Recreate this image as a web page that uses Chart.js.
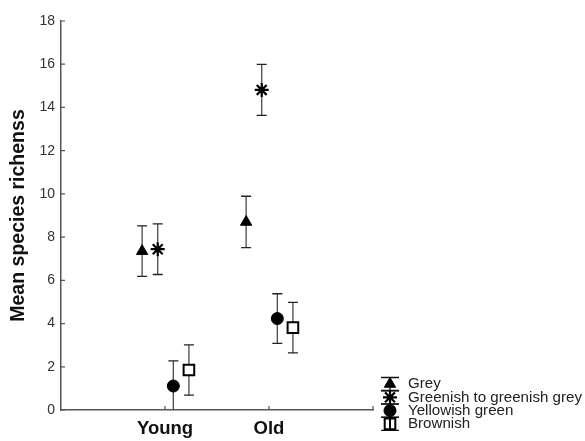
<!DOCTYPE html>
<html>
<head>
<meta charset="utf-8">
<script src="https://cdn.jsdelivr.net/npm/chart.js@4.4.0/dist/chart.umd.min.js"></script>
<style>
	html, body { margin: 0; padding: 0; background: #fff; }
	#wrap { position: relative; width: 585px; height: 441px; }
</style>
</head>
<body>
<div id="wrap"><canvas id="chart" width="585" height="441"></canvas></div>
<script>
const categories = ['Young', 'Old'];
const seriesNames = ['Grey', 'Greenish to greenish grey', 'Yellowish green', 'Brownish'];
const yTicks = [0, 2, 4, 6, 8, 10, 12, 14, 16, 18];

// means and half-widths of the error bars, one entry per category
const greyMean = [7.35, 8.70];
const greyErr = [1.17, 1.19];
const greenishMean = [7.44, 14.81];
const greenishErr = [1.17, 1.18];
const yellowMean = [1.11, 4.23];
const yellowErr = [1.16, 1.15];
const brownMean = [1.85, 3.81];
const brownErr = [1.16, 1.17];

// horizontal offset of each series inside a category
const offsets = [-0.22, -0.07, 0.08, 0.23];

const AXIS = '#555';
const FONT = "'Liberation Sans', Arial, sans-serif";

function points(means, errs, k) {
	return means.map((m, i) => ({ x: i + 1 + offsets[k], y: m, err: errs[i] }));
}

const styles = [
	{ pointStyle: 'triangle', pointRadius: 6.5, backgroundColor: '#000', borderColor: '#000', borderWidth: 1 },
	{ pointStyle: 'star', pointRadius: 7, backgroundColor: '#000', borderColor: '#000', borderWidth: 2.2 },
	{ pointStyle: 'circle', pointRadius: 6, backgroundColor: '#000', borderColor: '#000', borderWidth: 1 },
	{ pointStyle: 'rect', pointRadius: 7.5, backgroundColor: '#fff', borderColor: '#000', borderWidth: 2 }
];

const allMeans = [greyMean, greenishMean, yellowMean, brownMean];
const allErrs = [greyErr, greenishErr, yellowErr, brownErr];

const datasets = seriesNames.map((name, k) => Object.assign({
	label: name,
	data: points(allMeans[k], allErrs[k], k),
	pointHoverRadius: styles[k].pointRadius
}, styles[k]));

// error bars go under the markers so the open square hides them
const errorBars = {
	id: 'errorBars',
	beforeDatasetsDraw(chart) {
		const { ctx, chartArea, scales } = chart;
		ctx.save();
		ctx.beginPath();
		ctx.rect(chartArea.left, chartArea.top, chartArea.width, chartArea.height);
		ctx.clip();
		chart.data.datasets.forEach((ds, i) => {
			chart.getDatasetMeta(i).data.forEach((pt, j) => {
				const d = ds.data[j];
				const top = scales.y.getPixelForValue(d.y + d.err);
				const bot = scales.y.getPixelForValue(d.y - d.err);
				ctx.strokeStyle = '#4a4a4a';
				ctx.lineWidth = 1.3;
				ctx.beginPath();
				ctx.moveTo(pt.x, top); ctx.lineTo(pt.x, bot);
				ctx.stroke();
				ctx.strokeStyle = '#222';
				ctx.beginPath();
				ctx.moveTo(pt.x - 5, top); ctx.lineTo(pt.x + 5, top);
				ctx.moveTo(pt.x - 5, bot); ctx.lineTo(pt.x + 5, bot);
				ctx.stroke();
			});
		});
		ctx.restore();
	}
};

// inward tick marks and the hand-drawn legend
const extras = {
	id: 'extras',
	afterDraw(chart) {
		const { ctx, chartArea, scales } = chart;
		ctx.save();
		ctx.strokeStyle = AXIS;
		ctx.lineWidth = 1.2;
		ctx.beginPath();
		yTicks.forEach(v => {
			const py = scales.y.getPixelForValue(v);
			ctx.moveTo(chartArea.left, py); ctx.lineTo(chartArea.left + 4, py);
		});
		[1, 2, 3].forEach(v => {
			const px = scales.x.getPixelForValue(v);
			ctx.moveTo(px, chartArea.bottom); ctx.lineTo(px, chartArea.bottom - 4);
		});
		ctx.stroke();

		const lx = 390, tx = 408;
		seriesNames.forEach((name, k) => {
			const cy = 384 + k * 13.3;
			ctx.strokeStyle = '#111';
			ctx.lineWidth = 1.3;
			ctx.beginPath();
			ctx.moveTo(lx - 9, cy - 6.5); ctx.lineTo(lx + 9, cy - 6.5);
			ctx.moveTo(lx - 9, cy + 6.5); ctx.lineTo(lx + 9, cy + 6.5);
			ctx.moveTo(lx, cy - 6.5); ctx.lineTo(lx, cy + 6.5);
			ctx.stroke();
			const s = styles[k];
			ctx.fillStyle = s.backgroundColor;
			ctx.strokeStyle = s.borderColor;
			ctx.lineWidth = s.borderWidth;
			Chart.helpers.drawPoint(ctx, { pointStyle: s.pointStyle, radius: s.pointRadius, rotation: 0, borderWidth: s.borderWidth }, lx, cy);
			if (s.pointStyle === 'rect') {
				ctx.beginPath(); ctx.moveTo(lx, cy - 5); ctx.lineTo(lx, cy + 6); ctx.stroke();
			}
			ctx.save();
			ctx.translate(tx, cy);
			ctx.scale(1.08, 1);
			ctx.fillStyle = '#222';
			ctx.font = '14px ' + FONT;
			ctx.textBaseline = 'middle';
			ctx.textAlign = 'left';
			ctx.fillText(name, 0, 0.5);
			ctx.restore();
		});
		ctx.restore();
	}
};

new Chart(document.getElementById('chart'), {
	type: 'scatter',
	data: { datasets: datasets },
	plugins: [errorBars, extras],
	options: {
		responsive: false,
		animation: false,
		layout: { padding: { top: 21, right: 212, left: 0, bottom: 0 } },
		plugins: { legend: { display: false }, tooltip: { enabled: false } },
		scales: {
			x: {
				type: 'linear', min: 0, max: 3,
				grid: { display: false, drawTicks: false },
				border: { color: AXIS, width: 1.5 },
				ticks: {
					stepSize: 1, autoSkip: false, maxRotation: 0, padding: 8,
					color: '#111', font: { family: FONT, size: 18.5, weight: 'bold' },
					callback: v => categories[v - 1] || ''
				},
				afterFit: s => { s.height = 31; }
			},
			y: {
				min: 0, max: 18,
				grid: { display: false, drawTicks: false },
				border: { color: AXIS, width: 1.5 },
				ticks: {
					stepSize: 2, padding: 6, color: '#333',
					font: { family: FONT, size: 14 }
				},
				title: {
					display: true, text: 'Mean species richenss', color: '#111',
					font: { family: FONT, size: 19.5, weight: 'bold' },
					padding: { top: 7, bottom: 0 }
				},
				afterFit: s => { s.width = 61; }
			}
		}
	}
});
</script>
</body>
</html>
